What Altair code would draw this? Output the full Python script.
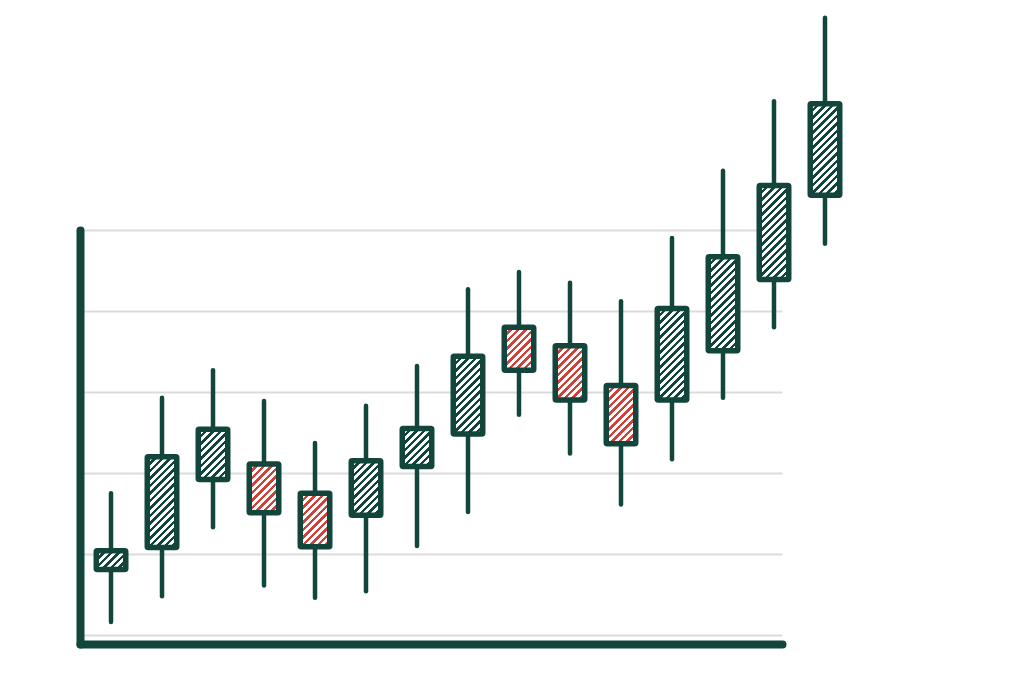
import altair as alt
import pandas as pd

# ---- data (arbitrary price units, gridlines at 0..5) ----
candle = list(range(1, 16))
open_ = [0.81, 1.08, 1.92, 2.11, 1.75, 1.48, 2.08, 2.48, 3.80, 3.57, 3.08, 2.90, 3.51, 4.39, 5.43]
close = [1.04, 2.20, 2.54, 1.51, 1.09, 2.15, 2.55, 3.44, 3.27, 2.90, 2.36, 4.03, 4.67, 5.55, 6.56]
high = [1.75, 2.93, 3.27, 2.89, 2.37, 2.83, 3.32, 4.27, 4.48, 4.35, 4.12, 4.90, 5.73, 6.59, 7.62]
low = [0.16, 0.48, 1.33, 0.61, 0.46, 0.54, 1.10, 1.52, 2.72, 2.24, 1.61, 2.17, 2.93, 3.80, 4.83]
grid_values = [0, 1, 2, 3, 4, 5]

# ---- style ----
DARK = "#12463d"
RED = "#d2403a"
GRID = "#dcdcdc"
W, H = 702, 414
Y_DOMAIN = [-0.111, 5.0]
X_DOMAIN = [0.392, 14.157]
BODY_W = 29.5
PERIOD = 7.5   # hatch period along x+y (px)
DARK_FRAC = 0.47

df = pd.DataFrame({"candle": candle, "open": open_, "close": close, "high": high, "low": low})
df["up"] = df["close"] >= df["open"]

xs = alt.Scale(domain=X_DOMAIN, nice=False, zero=False, padding=0)
ys = alt.Scale(domain=Y_DOMAIN, nice=False, zero=False, padding=0)
xaxis = alt.Axis(grid=False, labels=False, ticks=False, title=None,
                 domainColor=DARK, domainWidth=8, domainCap="round")
yaxis = alt.Axis(values=grid_values, grid=True, gridColor=GRID, gridWidth=2,
                 labels=False, ticks=False, title=None,
                 domainColor=DARK, domainWidth=8, domainCap="round")

px_per_unit = H / (Y_DOMAIN[1] - Y_DOMAIN[0])


def hatch(color, h):
    """Diagonal '/' stripes as a hard-stop linear gradient for a w x h box."""
    w = BODY_W
    h = max(h, 1.0)
    r = h / w
    L = w + h
    s = L / (w * (1 + r * r))
    stops = []
    k = 0
    while k * PERIOD < L:
        a = k * PERIOD / L
        b = min((k * PERIOD + PERIOD * DARK_FRAC) / L, 1.0)
        c = min((k + 1) * PERIOD / L, 1.0)
        stops += [
            {"offset": a, "color": color},
            {"offset": b, "color": color},
            {"offset": b, "color": "#ffffff"},
            {"offset": c, "color": "#ffffff"},
        ]
        k += 1
    return {"gradient": "linear", "x1": 0, "y1": 0, "x2": s, "y2": s * r, "stops": stops}


wicks = alt.Chart(df).mark_rule(color=DARK, strokeWidth=4.5, strokeCap="round").encode(
    x=alt.X("candle:Q", scale=xs, axis=xaxis),
    y=alt.Y("low:Q", scale=ys, axis=yaxis),
    y2="high:Q",
)

layers = [wicks]
for i in range(len(df)):
    row = df.iloc[[i]]
    h = abs(row["close"].iloc[0] - row["open"].iloc[0]) * px_per_unit
    color = DARK if row["up"].iloc[0] else RED
    body = alt.Chart(row).mark_bar(
        size=BODY_W, fill=hatch(color, h), stroke=DARK, strokeWidth=5.5,
        strokeJoin="round", cornerRadius=1,
    ).encode(
        x=alt.X("candle:Q", scale=xs, axis=xaxis),
        y=alt.Y("open:Q", scale=ys, axis=yaxis),
        y2="close:Q",
    )
    layers.append(body)

chart = alt.layer(*layers).properties(
    width=W, height=H,
    autosize=alt.AutoSizeParams(type="none"),
    padding={"left": 72, "top": 222, "right": 200, "bottom": 20},
    background="white",
).configure_view(stroke=None)

chart.save("out.html", embed_options={"renderer": "svg", "actions": False})
